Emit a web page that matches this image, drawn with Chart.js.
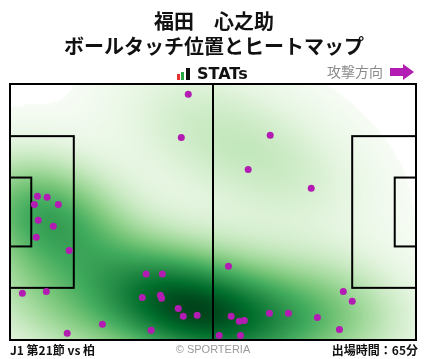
<!DOCTYPE html>
<html>
<head>
<meta charset="utf-8">
<script src="https://cdn.jsdelivr.net/npm/chart.js@4.4.1/dist/chart.umd.min.js"></script>
<style>
  html, body { margin: 0; padding: 0; background: #fff; }
  #wrap { width: 428px; height: 359px; }
</style>
</head>
<body>
<div id="wrap"><canvas id="heatmap" width="428" height="359"></canvas></div>
<script>
// タッチ位置 (m, 攻撃方向 = 右)
var touchX = [46.1, 44.3, 7.1, 9.6, 6.3, 12.5, 7.3, 11.2, 6.8, 15.3, 3.2, 9.4,
              35.2, 39.4, 34.2, 38.9, 39.2, 43.5, 44.8, 48.4, 23.9, 36.5, 14.8,
              67.3, 61.6, 77.9, 56.5, 86.2, 88.5, 57.2, 59.3, 60.6, 67.1, 72.0,
              79.5, 85.2, 54.1, 59.6];
var touchY = [65.3, 53.8, 38.2, 37.9, 36.0, 36.0, 31.8, 30.2, 27.3, 23.8, 12.4, 12.9,
              17.5, 17.5, 11.3, 11.9, 11.1, 8.4, 6.3, 6.6, 4.2, 2.6, 1.8,
              54.4, 45.3, 40.3, 19.6, 12.9, 10.3, 6.3, 5.0, 5.2, 7.1, 7.1,
              6.0, 2.8, 1.2, 1.2];

// ピッチ寸法
var pitchLength = 105;
var pitchWidth = 68;
var penaltyDepth = 16.5;
var penaltyWidth = 40.3;
var goalAreaDepth = 5.5;
var goalAreaWidth = 18.3;

var titleLines = ['福田　心之助', 'ボールタッチ位置とヒートマップ'];
var matchLabel = 'J1 第21節 vs 柏';
var minutesLabel = '出場時間：65分';

// matplotlib "Greens"
var greens = ['#f7fcf5', '#e5f5e0', '#c7e9c0', '#a1d99b', '#74c476',
              '#41ab5d', '#238b45', '#006d2c', '#00441b'];

var touches = touchX.map(function (x, i) { return { x: x, y: touchY[i] }; });

function hexRgb(h) {
    return [parseInt(h.substr(1, 2), 16), parseInt(h.substr(3, 2), 16), parseInt(h.substr(5, 2), 16)];
}
var greensRgb = greens.map(hexRgb);

function cmap(t) {
    var p = Math.max(0, Math.min(1, t)) * (greensRgb.length - 1);
    var i = Math.min(Math.floor(p), greensRgb.length - 2);
    var f = p - i;
    var a = greensRgb[i], b = greensRgb[i + 1];
    return [a[0] + (b[0] - a[0]) * f, a[1] + (b[1] - a[1]) * f, a[2] + (b[2] - a[2]) * f];
}

// gaussian KDE (Scott, 軸ごとに調整)
function makeKde(xs, ys, adjX, adjY) {
    var n = xs.length;
    var mx = 0, my = 0;
    for (var i = 0; i < n; i++) { mx += xs[i]; my += ys[i]; }
    mx /= n; my /= n;
    var sxx = 0, syy = 0, sxy = 0;
    for (i = 0; i < n; i++) {
        sxx += (xs[i] - mx) * (xs[i] - mx);
        syy += (ys[i] - my) * (ys[i] - my);
        sxy += (xs[i] - mx) * (ys[i] - my);
    }
    var f2 = Math.pow(n, -1 / 3);
    sxx = sxx / (n - 1) * f2 * adjX * adjX;
    syy = syy / (n - 1) * f2 * adjY * adjY;
    sxy = sxy / (n - 1) * f2 * adjX * adjY;
    var det = sxx * syy - sxy * sxy;
    var ia = syy / det, ib = -sxy / det, ic = sxx / det;
    return function (x, y) {
        var s = 0;
        for (var k = 0; k < n; k++) {
            var dx = x - xs[k], dy = y - ys[k];
            s += Math.exp(-0.5 * (ia * dx * dx + 2 * ib * dx * dy + ic * dy * dy));
        }
        return s;
    };
}

var heatPlugin = {
    id: 'heat',
    beforeDatasetsDraw: function (chart) {
        var ctx = chart.ctx, area = chart.chartArea;
        var sx = chart.scales.x, sy = chart.scales.y;
        var kde = makeKde(touchX, touchY, 1.0, 1.1);
        var step = 2;
        var w = Math.ceil((area.right - area.left) / step);
        var h = Math.ceil((area.bottom - area.top) / step);
        var vals = [], max = 0;
        for (var j = 0; j < h; j++) {
            for (var i = 0; i < w; i++) {
                var v = kde(sx.getValueForPixel(area.left + (i + 0.5) * step),
                            sy.getValueForPixel(area.top + (j + 0.5) * step));
                vals.push(v);
                if (v > max) max = v;
            }
        }
        var off = document.createElement('canvas');
        off.width = w; off.height = h;
        var octx = off.getContext('2d');
        var img = octx.createImageData(w, h);
        var thresh = 0.02;
        for (var k = 0; k < vals.length; k++) {
            var t = vals[k] / max;
            var u = Math.max(0, (t - thresh) / (1 - thresh));
            var c = cmap(Math.pow(u, 0.9));
            img.data[k * 4] = c[0];
            img.data[k * 4 + 1] = c[1];
            img.data[k * 4 + 2] = c[2];
            img.data[k * 4 + 3] = t < thresh ? 0 : 255;
        }
        octx.putImageData(img, 0, 0);
        ctx.save();
        ctx.imageSmoothingEnabled = true;
        ctx.drawImage(off, area.left, area.top, area.right - area.left, area.bottom - area.top);

        // pitch lines
        function px(v) { return sx.getPixelForValue(v); }
        function py(v) { return sy.getPixelForValue(v); }
        ctx.strokeStyle = '#000';
        ctx.lineWidth = 2;
        ctx.strokeRect(px(0), py(pitchWidth), px(pitchLength) - px(0), py(0) - py(pitchWidth));
        ctx.beginPath();
        ctx.moveTo(px(pitchLength / 2), py(0));
        ctx.lineTo(px(pitchLength / 2), py(pitchWidth));
        ctx.stroke();
        var mid = pitchWidth / 2;
        [[penaltyDepth, penaltyWidth], [goalAreaDepth, goalAreaWidth]].forEach(function (b) {
            var y0 = py(mid + b[1] / 2), y1 = py(mid - b[1] / 2);
            ctx.strokeRect(px(0), y0, px(b[0]) - px(0), y1 - y0);
            ctx.strokeRect(px(pitchLength - b[0]), y0, px(pitchLength) - px(pitchLength - b[0]), y1 - y0);
        });
        ctx.restore();
    }
};

var textPlugin = {
    id: 'texts',
    afterDraw: function (chart) {
        var ctx = chart.ctx;
        var jp = '"Noto Sans CJK JP", "Noto Sans", sans-serif';
        ctx.save();
        ctx.textBaseline = 'middle';
        ctx.fillStyle = '#111';
        ctx.textAlign = 'center';
        ctx.font = 'bold 20px ' + jp;
        ctx.fillText(titleLines[0], 214, 21);
        ctx.fillText(titleLines[1], 214, 46);

        // STATs logo
        ctx.fillStyle = '#e8312f'; ctx.fillRect(177, 74, 3, 6);
        ctx.fillStyle = '#2aa845'; ctx.fillRect(181, 72, 3, 8);
        ctx.fillStyle = '#111'; ctx.fillRect(186, 68, 4, 12);
        ctx.textAlign = 'left';
        ctx.font = 'bold 16px "DejaVu Sans", sans-serif';
        ctx.fillText('STATs', 197, 74.5);

        ctx.fillStyle = '#8a8a8a';
        ctx.font = '14px ' + jp;
        ctx.fillText('攻撃方向', 327, 72);
        ctx.fillStyle = '#b21cb2';
        ctx.beginPath();
        ctx.moveTo(390, 68); ctx.lineTo(403, 68); ctx.lineTo(403, 64);
        ctx.lineTo(414, 72); ctx.lineTo(403, 80); ctx.lineTo(403, 76);
        ctx.lineTo(390, 76); ctx.closePath(); ctx.fill();

        // footer
        ctx.fillStyle = '#111';
        ctx.font = 'bold 12px ' + jp;
        ctx.fillText(matchLabel, 10, 350);
        ctx.textAlign = 'right';
        ctx.fillText(minutesLabel, 418, 350);
        ctx.textAlign = 'center';
        ctx.fillStyle = '#9a9a9a';
        ctx.font = '11px "Liberation Sans", sans-serif';
        ctx.fillText('© SPORTERIA', 213, 350);
        ctx.restore();
    }
};

new Chart(document.getElementById('heatmap').getContext('2d'), {
    type: 'scatter',
    data: {
        datasets: [{
            data: touches,
            backgroundColor: '#b21cb2',
            borderWidth: 0,
            pointRadius: 3.5,
            pointHoverRadius: 3.5
        }]
    },
    options: {
        responsive: false,
        animation: false,
        layout: { padding: { top: 84, left: 10, right: 12, bottom: 19 } },
        plugins: { legend: { display: false }, tooltip: { enabled: false } },
        scales: {
            x: { type: 'linear', min: 0, max: pitchLength, display: false },
            y: { type: 'linear', min: 0, max: pitchWidth, display: false }
        }
    },
    plugins: [heatPlugin, textPlugin]
});
</script>
</body>
</html>
